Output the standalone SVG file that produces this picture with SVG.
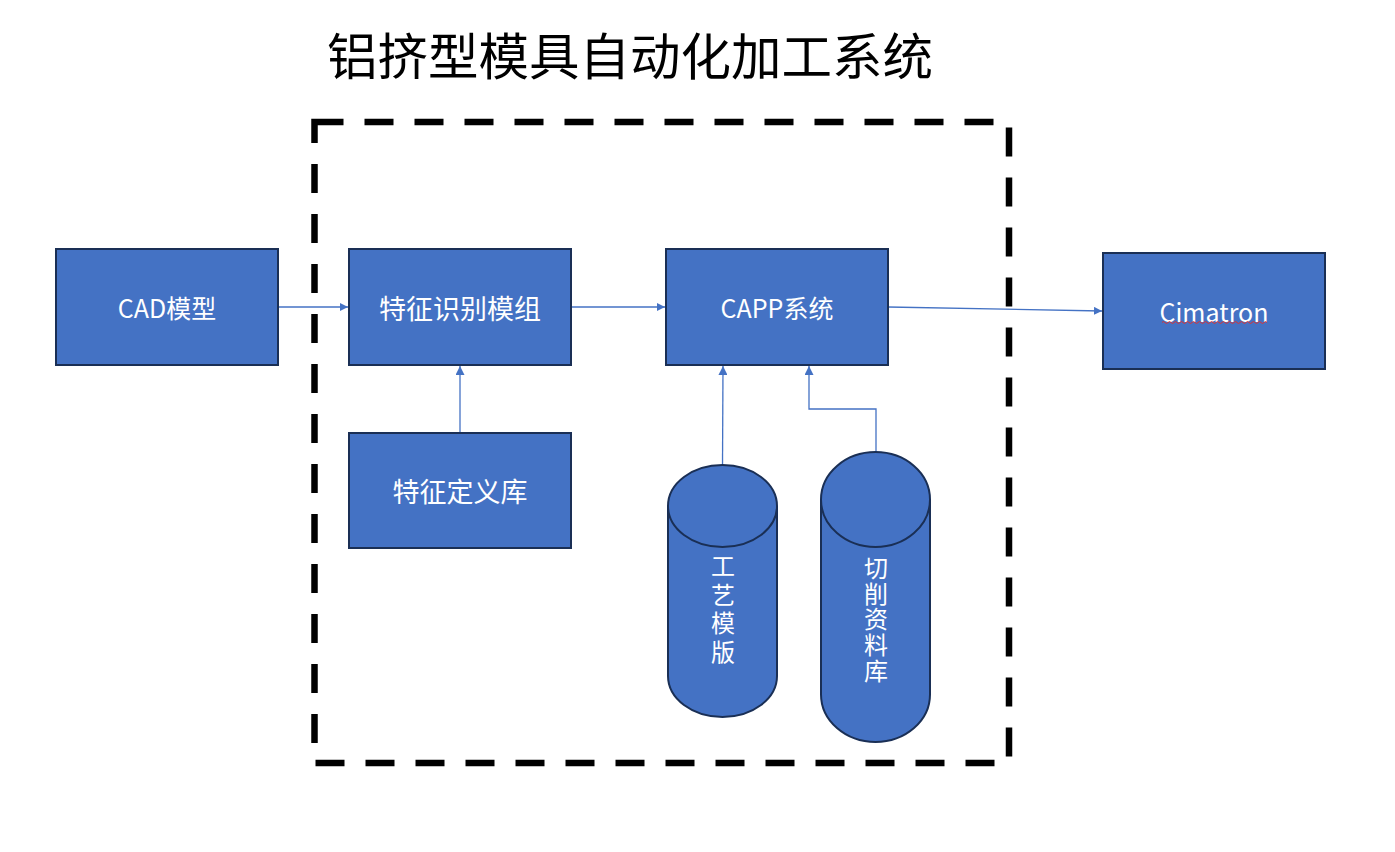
<svg xmlns="http://www.w3.org/2000/svg" width="1395" height="852" viewBox="0 0 1395 852">
<style>
.box{fill:#4472C4;stroke:#1A2F55;stroke-width:2}
.lbl{fill:#fff;font-family:"Noto Sans CJK SC","Noto Sans",sans-serif;font-size:27px;text-anchor:middle;dominant-baseline:central}
.lat{font-size:25px}
.cyl{fill:#fff;font-family:"Noto Sans CJK SC",sans-serif;font-size:24px;text-anchor:middle;writing-mode:vertical-rl;text-orientation:upright}
.con{fill:none;stroke:#4472C4;stroke-width:1.3}
</style>
<defs>
<marker id="ah" viewBox="0 0 10 10" refX="10" refY="5" markerWidth="8" markerHeight="8" markerUnits="userSpaceOnUse" orient="auto"><path d="M0,0 L10,5 L0,10 z" fill="#4472C4"/></marker>
<marker id="ahv" viewBox="0 0 10 10" refX="10" refY="5" markerWidth="9" markerHeight="9" markerUnits="userSpaceOnUse" orient="auto"><path d="M0,0 L10,5 L0,10 z" fill="#4472C4"/></marker>
</defs>
<rect width="1395" height="852" fill="#fff"/>
<text x="630" y="53" font-family="'Noto Sans CJK SC',sans-serif" font-size="50.5" text-anchor="middle" dominant-baseline="central" fill="#000">铝挤型模具自动化加工系统</text>
<g id="frame"><path d="M314.5,122 L1009,122 L1009,763 L314.5,763 Z" fill="none" stroke="#000" stroke-width="6.5" stroke-dasharray="29 21"/></g>
<g id="connectors">
<line class="con" x1="278" y1="307" x2="348" y2="307" marker-end="url(#ah)"/>
<line class="con" x1="571" y1="307" x2="665" y2="307" marker-end="url(#ah)"/>
<line class="con" x1="888" y1="307" x2="1102" y2="311" marker-end="url(#ah)"/>
<line class="con" x1="460" y1="433" x2="460" y2="366" marker-end="url(#ahv)"/>
<line class="con" x1="722.5" y1="465" x2="723" y2="366" marker-end="url(#ahv)"/>
<polyline class="con" points="876,452 876,409 809,409 809,366" marker-end="url(#ahv)"/>
</g>
<g id="cad"><rect class="box" x="56" y="249" width="222" height="116"/><text class="lbl lat" x="167" y="307">CAD模型</text></g>
<g id="feature-recog"><rect class="box" x="349" y="249" width="222" height="116"/><text class="lbl" x="460" y="307">特征识别模组</text></g>
<g id="capp"><rect class="box" x="666" y="249" width="222" height="116"/><text class="lbl lat" x="777" y="307">CAPP系统</text></g>
<g id="cimatron"><rect class="box" x="1103" y="253" width="222" height="116"/><text class="lbl lat" x="1214" y="311">Cimatron</text><path d="M1162,322.5 q1.5,-2 3,0 t3,0 t3,0 t3,0 t3,0 t3,0 t3,0 t3,0 t3,0 t3,0 t3,0 t3,0 t3,0 t3,0 t3,0 t3,0 t3,0 t3,0 t3,0 t3,0 t3,0 t3,0 t3,0 t3,0 t3,0 t3,0 t3,0 t3,0 t3,0 t3,0 t3,0 t3,0 t3,0 t3,0 t3,0" fill="none" stroke="#e03030" stroke-width="1"/></g>
<g id="feature-lib"><rect class="box" x="349" y="433" width="222" height="115"/><text class="lbl" x="460" y="490">特征定义库</text></g>
<g id="process-template">
<path class="box" d="M668,506 L668,676 A54.5,41 0 0 0 777,676 L777,506 A54.5,41 0 0 0 668,506 Z"/>
<path d="M668,506 A54.5,41 0 0 0 777,506" fill="none" stroke="#1A2F55" stroke-width="2"/>
<text class="cyl" x="723" y="611" style="letter-spacing:4.5px">工艺模版</text>
</g>
<g id="cutting-lib">
<path class="box" d="M821,499.5 L821,694.5 A54.5,47.5 0 0 0 930,694.5 L930,499.5 A54.5,47.5 0 0 0 821,499.5 Z"/>
<path d="M821,499.5 A54.5,47.5 0 0 0 930,499.5" fill="none" stroke="#1A2F55" stroke-width="2"/>
<text class="cyl" x="876" y="620" style="letter-spacing:1.6px">切削资料库</text>
</g>
</svg>
